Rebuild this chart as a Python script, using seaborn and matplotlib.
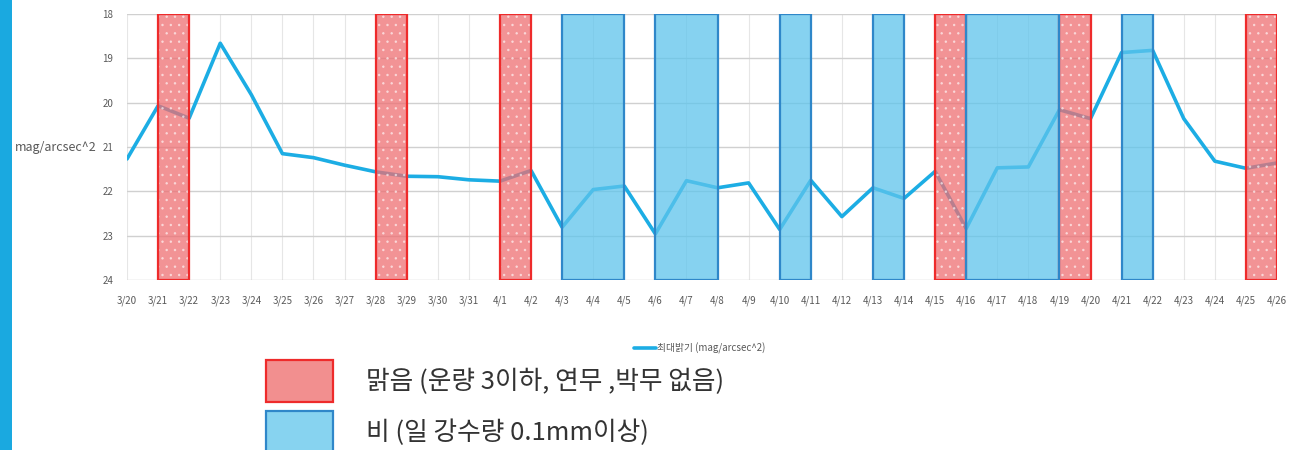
import matplotlib
matplotlib.use("Agg")
import numpy as np
import pandas as pd
import seaborn as sns
import matplotlib.pyplot as plt
from matplotlib.patches import Patch
from matplotlib.lines import Line2D

dates = ["3/20", "3/21", "3/22", "3/23", "3/24", "3/25", "3/26", "3/27", "3/28", "3/29",
         "3/30", "3/31", "4/1", "4/2", "4/3", "4/4", "4/5", "4/6", "4/7", "4/8",
         "4/9", "4/10", "4/11", "4/12", "4/13", "4/14", "4/15", "4/16", "4/17", "4/18",
         "4/19", "4/20", "4/21", "4/22", "4/23", "4/24", "4/25", "4/26"]
brightness = [21.27, 20.07, 20.35, 18.66, 19.82, 21.15, 21.24, 21.41, 21.56, 21.66,
              21.67, 21.74, 21.77, 21.53, 22.81, 21.96, 21.88, 22.96, 21.76, 21.92,
              21.81, 22.86, 21.75, 22.57, 21.92, 22.16, 21.55, 22.84, 21.47, 21.45,
              20.16, 20.36, 18.87, 18.82, 20.36, 21.32, 21.48, 21.36]

# 맑은 날 / 비 온 날 구간 (시작일, 끝일)
clear_spans = [("3/21", "3/22"), ("3/28", "3/29"), ("4/1", "4/2"),
               ("4/15", "4/16"), ("4/19", "4/20"), ("4/25", "4/26")]
rain_spans = [("4/3", "4/5"), ("4/6", "4/8"), ("4/10", "4/11"),
              ("4/13", "4/14"), ("4/16", "4/19"), ("4/21", "4/22")]

line_label = "최대밝기 (mag/arcsec^2)"
clear_label = "맑음 (운량 3이하, 연무 ,박무 없음)"
rain_label = "비 (일 강수량 0.1mm이상)"
y_ticks = [18, 19, 20, 21, 22, 23, 24]

sns.set_style("white")
plt.rcParams["font.family"] = ["Noto Sans CJK KR", "DejaVu Sans"]
plt.rcParams["hatch.linewidth"] = 0.6

df = pd.DataFrame({"day": np.arange(len(dates)), "mag": brightness})

fig = plt.figure(figsize=(12.98, 4.5), dpi=100)
ax = fig.add_axes([127 / 1298, 1 - 280 / 450, 1150 / 1298, 266 / 450])

line_color = "#1cade4"
sns.lineplot(data=df, x="day", y="mag", ax=ax, color=line_color, linewidth=2.6, zorder=3)

pos = {d: i for i, d in enumerate(dates)}
for a, b in clear_spans:
    ax.axvspan(pos[a], pos[b], facecolor="#ee6f72", alpha=0.75, edgecolor="none", zorder=4)
    ax.axvspan(pos[a], pos[b], facecolor="none", edgecolor="#ffffff", linewidth=0,
               hatch="..", alpha=0.5, zorder=4)
    ax.axvspan(pos[a], pos[b], facecolor="none", edgecolor="#ee2b2b", linewidth=1.6, zorder=5)
for a, b in rain_spans:
    ax.axvspan(pos[a], pos[b], facecolor="#5ec4ec", alpha=0.75, edgecolor="none", zorder=4)
    ax.axvspan(pos[a], pos[b], facecolor="none", edgecolor="#2f87c9", linewidth=1.6, zorder=5)

ax.set_xlim(0, len(dates) - 1)
ax.set_ylim(24, 18)
ax.set_yticks(y_ticks)
ax.set_xticks(np.arange(len(dates)))
ax.set_xticklabels(dates)
ax.tick_params(axis="both", length=0, labelsize=7, labelcolor="#595959")
ax.tick_params(axis="x", pad=11)
ax.tick_params(axis="y", pad=10)
ax.grid(axis="y", color="#d0d0d0", linewidth=1.0, zorder=0)
ax.grid(axis="x", color="#e6e6e6", linewidth=0.8, zorder=0)
ax.set_axisbelow(True)
for s in ax.spines.values():
    s.set_visible(False)

ax.set_xlabel("")
ax.set_ylabel("mag/arcsec^2", rotation=0, ha="right", va="center", fontsize=9, color="#595959")
ax.yaxis.set_label_coords(-0.026, 0.5)

# 선 범례
fig.legend(handles=[Line2D([0], [0], color=line_color, linewidth=2.6)],
           labels=[line_label], loc="center", bbox_to_anchor=(700 / 1298, 1 - 348 / 450),
           frameon=False, fontsize=7, handlelength=2.2, handletextpad=0.2,
           labelcolor="#595959")

# 구간 범례
patches = [Patch(facecolor="#f28f8f", edgecolor="#ee2b2b", linewidth=1.6),
           Patch(facecolor="#87d3f0", edgecolor="#2f87c9", linewidth=1.6)]
fig.legend(handles=patches, labels=[clear_label, rain_label], loc="upper left",
           bbox_to_anchor=(243 / 1298, 1 - 337 / 450), frameon=False, fontsize=18.5,
           handlelength=2.6, handleheight=2.14, handletextpad=1.28, labelspacing=0.35,
           labelcolor="#333333")

# 왼쪽 파란 띠
fig.patches.append(plt.Rectangle((0, 0), 12 / 1298, 1, transform=fig.transFigure,
                                 facecolor="#1aa9e0", edgecolor="none"))

fig.savefig("out.png", dpi=100)
